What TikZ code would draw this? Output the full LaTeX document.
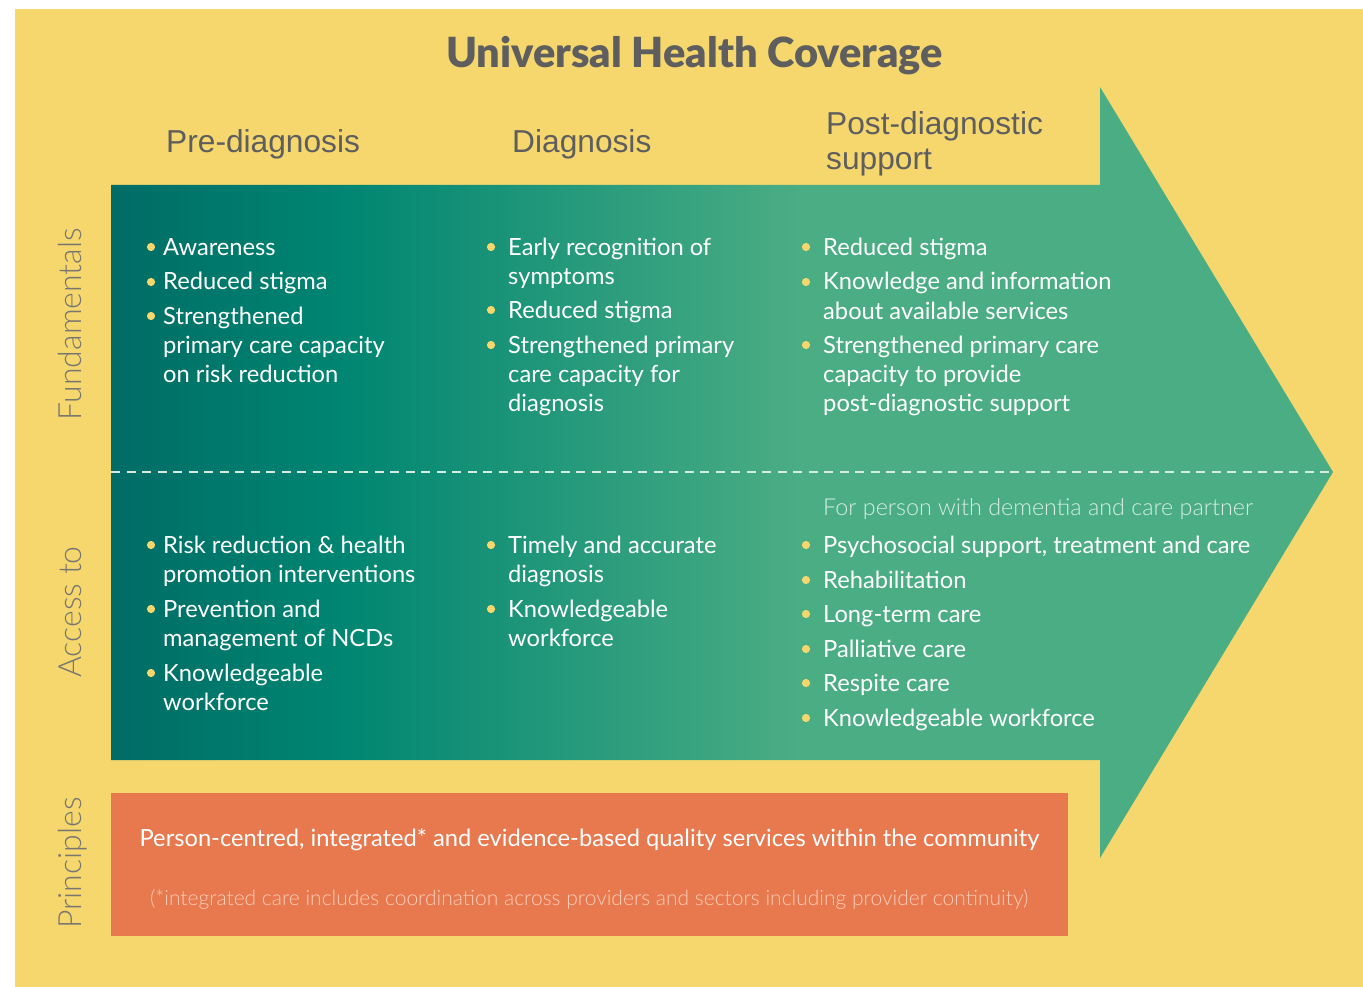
\documentclass[tikz,border=0pt]{standalone}
\usepackage{fontspec}
\setmainfont{Lato}
\newfontfamily\latolight{Lato Light}
\newfontfamily\titlefont{Lato Black}
\newfontfamily\headfont{Liberation Sans}
\definecolor{bgyellow}{HTML}{F5D76E}
\definecolor{tealA}{HTML}{006C65}
\definecolor{tealB}{HTML}{008672}
\definecolor{greenC}{HTML}{4BAD84}
\definecolor{orangebox}{HTML}{E8794F}
\definecolor{graytext}{HTML}{5E5E5E}
\definecolor{sidegray}{HTML}{78766E}
\definecolor{dotc}{HTML}{F5D76E}
\definecolor{dashc}{HTML}{D5ECE0}
\definecolor{notegreen}{HTML}{D8EEE1}
\definecolor{noteorange}{HTML}{F9CDB6}
\pgfdeclarehorizontalshading{arrowshade}{100bp}{color(0bp)=(tealA); color(25bp)=(tealA); color(34.6bp)=(tealB); color(53.2bp)=(greenC); color(100bp)=(greenC)}
\newcommand\bl[4]{\node[btext] (#1) at (#2,#3) {#4};}
\newcommand\bd[2]{\fill[dotc] (#1,#2) circle (4.1pt);}
\begin{document}
\begin{tikzpicture}[x=1pt,y=-1pt,
  btext/.style={anchor=base west, inner sep=0pt, text=white, font=\fontsize{23.7}{28}\selectfont},
  head/.style={anchor=base west, inner sep=0pt, text=graytext, font=\headfont\fontsize{31.7}{36}\selectfont},
  side/.style={rotate=90, anchor=base, inner sep=0pt, text=sidegray, font=\latolight\fontsize{32}{36}\selectfont}]
\useasboundingbox (0,0) rectangle (1363,987);
\fill[white] (0,0) rectangle (1363,987);
\fill[bgyellow] (15,9) rectangle (1363,987);
% title
\node[anchor=base, inner sep=0pt, text=graytext, font=\titlefont\fontsize{41.5}{46}\selectfont] (title) at (694.5,68) {Universal Health Coverage};
% headers
\node[head] (h1) at (166,153) {Pre-diagnosis};
\node[head] (h2) at (512,153) {Diagnosis};
\node[head] (h3a) at (826,135) {Post-diagnostic};
\node[head] (h3b) at (826,170) {support};
% arrow
\shade[shading=arrowshade] (111,185) -- (1100,185) -- (1100,87) -- (1333,472) -- (1100,858) -- (1100,760) -- (111,760) -- cycle;
\draw[dashc, line width=1.6pt, dash pattern=on 9pt off 6.5pt] (111,472) -- (1333,472);
% orange box
\fill[orangebox] (111,793) rectangle (1068,936);
\node[anchor=base, inner sep=0pt, text=white, font=\fontsize{23.7}{28}\selectfont] (p1) at (589.5,846) {Person-centred, integrated* and evidence-based quality services within the community};
\node[anchor=base, inner sep=0pt, text=noteorange, font=\latolight\fontsize{21}{25}\selectfont] (p2) at (589,905) {(*integrated care includes coordination across providers and sectors including provider continuity)};
% side labels
\node[side] (s1) at (81,324) {Fundamentals};
\node[side] (s2) at (81,612) {Access to};
\node[side] (s3) at (81,863) {Principles};
% column 1 top
\bd{151}{247}\bl{a1}{163}{255}{Awareness}
\bd{151}{282}\bl{a2}{163}{290}{Reduced stigma}
\bd{151}{316}\bl{a3}{163}{324}{Strengthened}
\bl{a4}{163}{353}{primary care capacity}
\bl{a5}{163}{382}{on risk reduction}
% column 2 top
\bd{491}{247}\bl{b1}{508}{255}{Early recognition of}
\bl{b2}{508}{284}{symptoms}
\bd{491}{310}\bl{b3}{508}{318}{Reduced stigma}
\bd{491}{345}\bl{b4}{508}{353}{Strengthened primary}
\bl{b5}{508}{382}{care capacity for}
\bl{b6}{508}{411}{diagnosis}
% column 3 top
\bd{806}{247}\bl{c1}{823}{255}{Reduced stigma}
\bd{806}{282}\bl{c2}{823}{290}{Knowledge and information}
\bl{c3}{823}{319}{about available services}
\bd{806}{345}\bl{c4}{823}{353}{Strengthened primary care}
\bl{c5}{823}{382}{capacity to provide}
\bl{c6}{823}{411}{post-diagnostic support}
% column 1 bottom
\bd{151}{545}\bl{d1}{163}{553}{Risk reduction \& health}
\bl{d2}{163}{582}{promotion interventions}
\bd{151}{609}\bl{d3}{163}{617}{Prevention and}
\bl{d4}{163}{646}{management of NCDs}
\bd{151}{673}\bl{d5}{163}{681}{Knowledgeable}
\bl{d6}{163}{710}{workforce}
% column 2 bottom
\bd{491}{545}\bl{e1}{508}{553}{Timely and accurate}
\bl{e2}{508}{582}{diagnosis}
\bd{491}{609}\bl{e3}{508}{617}{Knowledgeable}
\bl{e4}{508}{646}{workforce}
% column 3 bottom
\node[anchor=base west, inner sep=0pt, text=notegreen, font=\latolight\fontsize{23.3}{28}\selectfont] (f0) at (823,515) {For person with dementia and care partner};
\bd{806}{545}\bl{f1}{823}{553}{Psychosocial support, treatment and care}
\bd{806}{580}\bl{f2}{823}{588}{Rehabilitation}
\bd{806}{614}\bl{f3}{823}{622}{Long-term care}
\bd{806}{649}\bl{f4}{823}{657}{Palliative care}
\bd{806}{683}\bl{f5}{823}{691}{Respite care}
\bd{806}{718}\bl{f6}{823}{726}{Knowledgeable workforce}
\end{tikzpicture}
\end{document}
